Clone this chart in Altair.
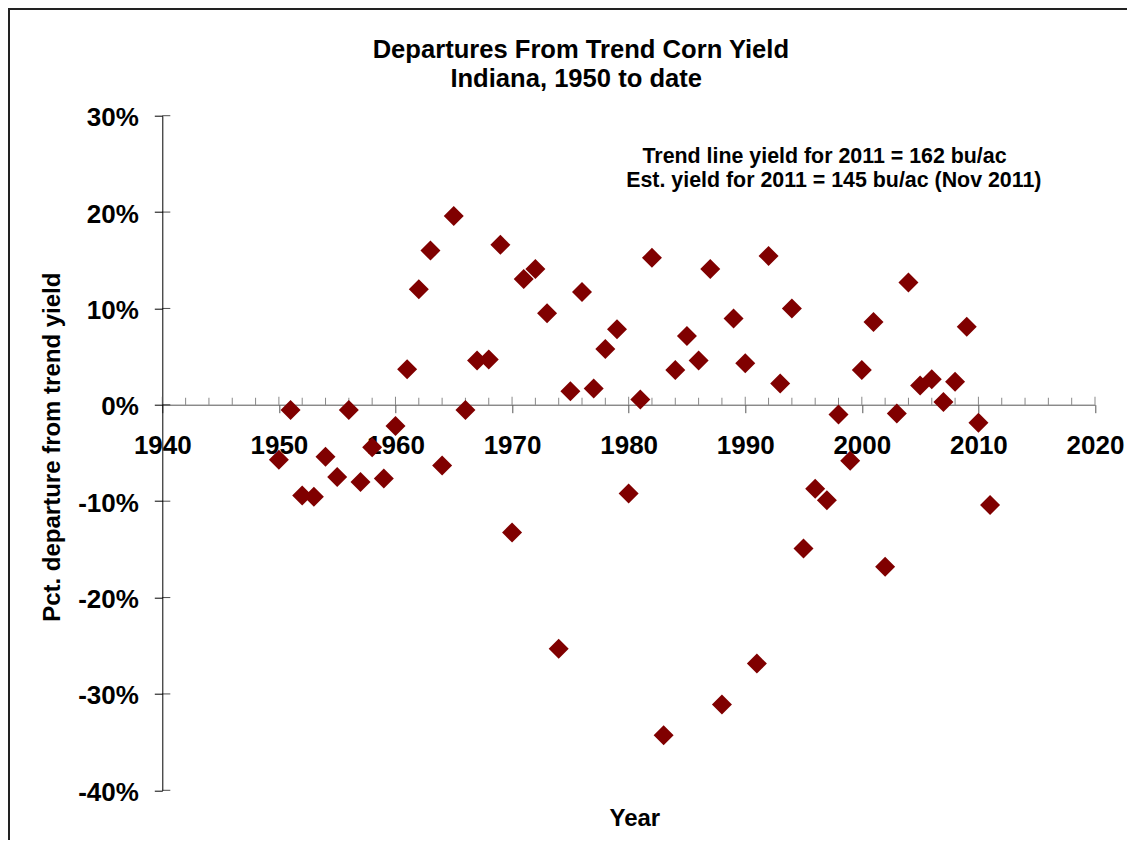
import altair as alt
import pandas as pd

# ---- data ----
years = list(range(1950, 2012))
departures = [
    -5.7, -0.55, -9.4, -9.55, -5.4, -7.5, -0.55, -8.0, -4.4, -7.65,
    -2.2, 3.7, 12.0, 16.0, -6.3, 19.6, -0.55, 4.6, 4.7, 16.6,
    -13.25, 13.05, 14.1, 9.5, -25.3, 1.4, 11.7, 1.7, 5.8, 7.85,
    -9.2, 0.55, 15.25, -34.3, 3.6, 7.15, 4.6, 14.1, -31.1, 8.95,
    4.3, -26.85, 15.45, 2.2, 10.0, -14.9, -8.7, -9.9, -1.0, -5.8,
    3.6, 8.6, -16.8, -0.9, 12.7, 2.0, 2.65, 0.3, 2.4, 8.1,
    -1.85, -10.4,
]

x_major = [1940, 1950, 1960, 1970, 1980, 1990, 2000, 2010, 2020]
x_minor = [1942, 1944, 1946, 1948, 1952, 1954, 1956, 1958, 1962, 1964, 1966, 1968,
           1972, 1974, 1976, 1978, 1982, 1984, 1986, 1988, 1992, 1994, 1996, 1998,
           2002, 2004, 2006, 2008, 2012, 2014, 2016, 2018]
y_major = [-40, -30, -20, -10, 0, 10, 20, 30]

title_lines = ["Departures From Trend Corn Yield", "Indiana, 1950 to date"]
title_x = [1975.9, 1975.5]
title_y = [36.0, 33.0]

note_lines = ["Trend line yield for 2011 = 162 bu/ac",
              "Est. yield for 2011 = 145 bu/ac (Nov 2011)"]
note_x = [1996.8, 1997.6]
note_y = [25.06, 22.57]

FONT = "Liberation Sans"
W, H = 932.7, 674.6
PAD = {"left": 154.3, "top": 107.7, "right": 32, "bottom": 50}
ZERO_FROM_BOTTOM = 385.6  # distance of the 0% line above the bottom of the plot

pts = pd.DataFrame({"year": years, "dep": departures})
notes = pd.DataFrame({"x": note_x, "y": note_y, "t": note_lines})
titles = pd.DataFrame({"x": title_x, "y": title_y, "t": title_lines})
xmaj = pd.DataFrame({"t": x_major})
xmin = pd.DataFrame({"t": x_minor})
ymaj = pd.DataFrame({"v": y_major})

xscale = alt.Scale(domain=[1940, 2020], nice=False, zero=False)
yscale = alt.Scale(domain=[-40, 30], nice=False, zero=False)

points = alt.Chart(pts).mark_point(
    shape="diamond", filled=True, size=400, color="#800000", opacity=1, strokeWidth=0
).encode(
    x=alt.X("year:Q", scale=xscale,
            axis=alt.Axis(values=x_major, format="d", title="Year",
                          offset=-ZERO_FROM_BOTTOM, tickSize=8, labelPadding=41,
                          labelBaseline="alphabetic", labelFlush=False,
                          labelFont=FONT, labelFontSize=26,
                          labelFontWeight="bold", labelColor="black",
                          domainColor="#555555", tickColor="#555555",
                          titleFont=FONT, titleFontSize=24, titleFontWeight="bold",
                          titleColor="black", titleBaseline="alphabetic",
                          titleY=421, titleX=472, grid=False)),
    y=alt.Y("dep:Q", scale=yscale,
            axis=alt.Axis(values=y_major, labelExpr="datum.value + '%'",
                          title="Pct. departure from trend yield",
                          tickSize=8, labelPadding=16, labelBaseline="alphabetic",
                          labelOffset=10, labelFlush=False, labelFont=FONT,
                          labelFontSize=26,
                          labelFontWeight="bold", labelColor="black",
                          domainColor="black", tickColor="black",
                          titleFont=FONT, titleFontSize=24, titleFontWeight="bold",
                          titleColor="black", titleBaseline="alphabetic",
                          titleAngle=270, titleX=-103, titleY=331, grid=False)),
)

xmaj_up = alt.Chart(xmaj).mark_tick(
    orient="vertical", size=8, thickness=1, yOffset=-4, color="#555555"
).encode(x=alt.X("t:Q", scale=xscale), y=alt.datum(0))

xmin_up = alt.Chart(xmin).mark_tick(
    orient="vertical", size=7, thickness=1, yOffset=-3.5, color="#555555"
).encode(x=alt.X("t:Q", scale=xscale), y=alt.datum(0))

ymaj_in = alt.Chart(ymaj).mark_tick(
    orient="horizontal", size=8, thickness=1, xOffset=4, color="black"
).encode(x=alt.datum(1940), y=alt.Y("v:Q", scale=yscale))

note = alt.Chart(notes).mark_text(
    font=FONT, fontSize=21.4, fontWeight="bold", color="black",
    align="center", baseline="alphabetic"
).encode(x=alt.X("x:Q", scale=xscale), y=alt.Y("y:Q", scale=yscale), text="t:N")

title = alt.Chart(titles).mark_text(
    font=FONT, fontSize=25.6, fontWeight="bold", color="black",
    align="center", baseline="alphabetic"
).encode(x=alt.X("x:Q", scale=xscale), y=alt.Y("y:Q", scale=yscale), text="t:N")

frame_left = alt.Chart(pts).mark_rule(color="#222222", strokeWidth=2).encode(
    x=alt.value(-153.3), y=alt.value(-108.7), y2=alt.value(H + 60))
frame_top = alt.Chart(pts).mark_rule(color="#222222", strokeWidth=2).encode(
    x=alt.value(-154.3), x2=alt.value(W + 40), y=alt.value(-106.7))

chart = alt.layer(
    frame_left, frame_top, xmin_up, xmaj_up, ymaj_in, points, note, title
).properties(
    width=W, height=H,
    autosize=alt.AutoSizeParams(type="none"),
    padding=PAD,
    background="white",
).configure_view(stroke=None)

chart.save("out.html", embed_options={"renderer": "svg", "actions": False})
